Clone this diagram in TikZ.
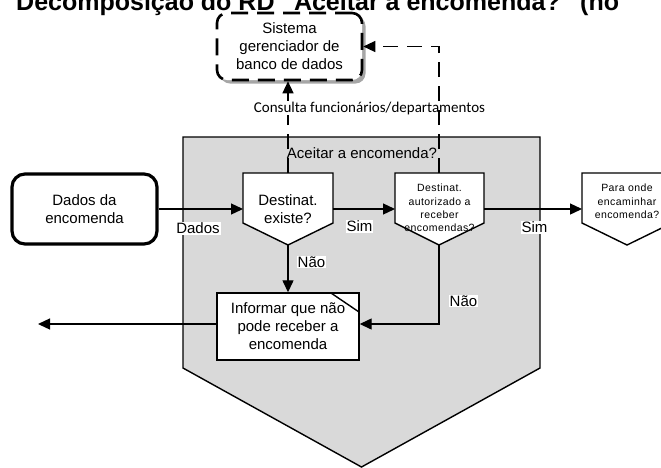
\documentclass[tikz,border=0pt]{standalone}
\usepackage{fontspec}
\setmainfont{Liberation Sans}
\newfontfamily\carlito{Carlito}
\newfontfamily\spacedsans[LetterSpace=4]{Liberation Sans}
\usetikzlibrary{arrows.meta}

\definecolor{regiongray}{HTML}{D9D9D9}
\definecolor{shadowgray}{HTML}{A6A6A6}

\begin{document}
\begin{tikzpicture}[x=1pt,y=-1pt,
  lbl/.style={font=\fontsize{15}{18}\selectfont, align=center, inner sep=0pt},
  tag/.style={font=\fontsize{15}{18}\selectfont, fill=white, inner sep=1pt},
  flow/.style={line width=1.3pt, -{Triangle[length=12pt,width=11pt]}},
  dflow/.style={flow, dash pattern=on 15pt off 9pt},
  shapeline/.style={line width=1.4pt},
  small/.style={font=\spacedsans\fontsize{10.5}{13.3}\selectfont, align=center, inner sep=0pt},
]
\useasboundingbox (0,0) rectangle (661,467);

% title (runs past the top edge)
\node[anchor=base west, font=\bfseries\fontsize{25}{30}\selectfont, inner sep=0pt] (title) at (16,10)
  {Decomposição do RD "Aceitar a encomenda?" (no};

% decomposition region
\draw[shapeline, fill=regiongray] (183,137) -- (540,137) -- (540,368) -- (361.5,467) -- (183,368) -- cycle;

% database system (external entity, dashed)
\fill[shadowgray, rounded corners=10pt] (220,16) rectangle (365.5,83.5);
\node[draw, line width=2.6pt, dash pattern=on 17pt off 9pt, rounded corners=10pt, fill=white,
      minimum width=145pt, minimum height=67pt, lbl] (sgbd) at (289.5,46.5)
  {Sistema\\gerenciador de\\banco de dados};

% input data
\node[draw, line width=3.2pt, rounded corners=13pt, fill=white,
      minimum width=145pt, minimum height=70pt, lbl] (dados) at (84.5,209)
  {Dados da\\encomenda};

% decision 1
\draw[shapeline, fill=white] (243,173) -- (333,173) -- (333,223) -- (288,245) -- (243,223) -- cycle;
\coordinate (d1n) at (288,173);
\coordinate (d1w) at (243,209);
\coordinate (d1e) at (333,209);
\coordinate (d1s) at (288,245);
\node[lbl] (d1) at (288,209) {Destinat.\\existe?};

% decision 2
\draw[shapeline, fill=white] (395,173) -- (484,173) -- (484,223) -- (439,245) -- (395,223) -- cycle;
\coordinate (d2n) at (439,173);
\coordinate (d2w) at (395,209);
\coordinate (d2e) at (484,209);
\coordinate (d2s) at (439,245);
\node[small] (d2) at (439.5,208) {Destinat.\\autorizado a\\receber\\encomendas?};

% decision 3
\draw[shapeline, fill=white] (582,173) -- (672,173) -- (672,223) -- (627,245) -- (582,223) -- cycle;
\coordinate (d3w) at (582,209);
\node[small] (d3) at (627,201.5) {Para onde\\encaminhar\\encomenda?};

% rejection message
\node[draw, shapeline, fill=white, minimum width=142pt, minimum height=67pt, lbl] (inf) at (288,326.5)
  {Informar que não\\pode receber a\\encomenda};
\draw[shapeline] (331,293) -- (359,312);
\coordinate (out) at (38,324);

% connectors
\draw[dflow] (d1n) -- (d1n |- sgbd.south);
\node[fill=white, inner sep=1pt, font=\carlito\fontsize{15}{18}\selectfont] (consulta) at (369.5,108)
  {Consulta funcionários/departamentos};
\draw[dflow] (d2n) |- (sgbd.east);

\draw[flow] (dados.east) -- (d1w);
\draw[flow] (d1e) -- (d2w);
\draw[flow] (d2e) -- (d3w);
\draw[flow] (d1s) -- (inf.north);
\draw[flow] (d2s) |- ([yshift=2.5pt]inf.east);
\draw[flow] ([yshift=2.5pt]inf.west) -- (out);

% labels
\node[lbl] (aceitar) at (362,153) {Aceitar a encomenda?};
\node[tag] (lDados) at (198,228) {Dados};
\node[tag] (lSim1) at (359.5,226) {Sim};
\node[tag] (lSim2) at (534.5,227) {Sim};
\node[tag] (lNao1) at (311.5,262) {Não};
\node[tag] (lNao2) at (463.5,301) {Não};
\end{tikzpicture}
\end{document}
